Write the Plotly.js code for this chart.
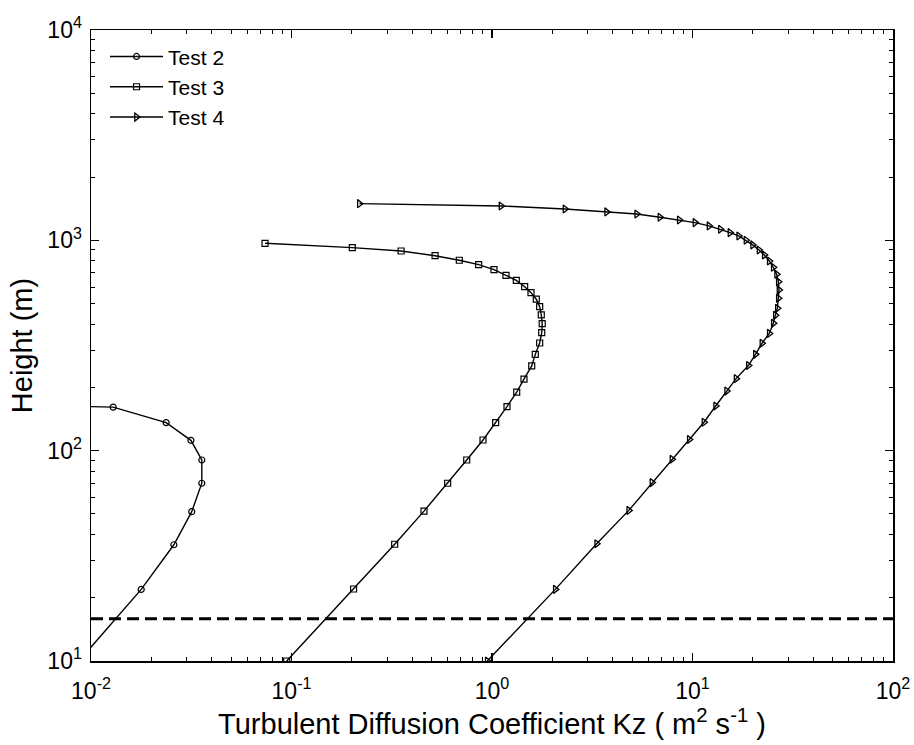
<!DOCTYPE html>
<html>
<head>
<meta charset="utf-8">
<script src="https://cdn.plot.ly/plotly-3.0.1.min.js"></script>
<style>html,body{margin:0;padding:0;background:#fff;}#chart{width:914px;height:745px;}</style>
</head>
<body>
<div id="chart"></div>
<script>
// Test 2 (open circles)
var test2X = [0.006, 0.0129, 0.0237, 0.0315, 0.0357, 0.0357, 0.0318, 0.0259, 0.0178, 0.0087];
var test2Y = [164, 161, 136, 112, 90.3, 70, 51.3, 35.7, 21.9, 10];

// Test 3 (open squares)
var test3X = [0.0738, 0.201, 0.352, 0.520, 0.687, 0.858, 1.023, 1.174, 1.322, 1.455, 1.565, 1.663, 1.729, 1.761, 1.78, 1.77, 1.729, 1.644, 1.578, 1.444, 1.328, 1.188, 1.043, 0.902, 0.748, 0.601, 0.458, 0.327, 0.204, 0.0946];
var test3Y = [968, 923, 890, 845, 804, 766, 726, 682, 645, 602, 564, 525, 484, 442, 402, 364, 325, 287, 253, 219, 190, 162, 136, 112.4, 90.3, 70, 51.6, 35.9, 22, 10];

// Test 4 (right triangles)
var test4X = [0.218, 1.109, 2.312, 3.73, 5.27, 6.88, 8.59, 10.29, 12.09, 13.77, 15.38, 17.0, 18.49, 19.95, 21.47, 22.8, 24.15, 25.28, 26.28, 26.8, 27.0, 26.8, 26.5, 25.9, 25.3, 24.15, 22.2, 20.6, 19.0, 16.5, 14.8, 13.05, 11.41, 9.64, 7.9, 6.28, 4.81, 3.327, 2.069, 0.947];
var test4Y = [1494, 1457, 1409, 1365, 1335, 1288, 1250, 1214, 1171, 1129, 1088, 1049, 1001, 951, 900, 852, 798, 745, 690, 636, 581, 530, 475, 440, 403, 361, 324, 287, 254, 220, 192, 163, 136.5, 113, 91, 70.5, 52, 36.1, 21.9, 10];

// Dashed reference height
var dashX = [0.01, 100];
var dashY = [15.9, 15.9];

// Axis ticks
var xTickVals = [0.01, 0.1, 1, 10, 100];
var xTickText = ['10<sup>-2</sup>', '10<sup>-1</sup>', '10<sup>0</sup>', '10<sup>1</sup>', '10<sup>2</sup>'];
var yTickVals = [10, 100, 1000, 10000];
var yTickText = ['10<sup>1</sup>', '10<sup>2</sup>', '10<sup>3</sup>', '10<sup>4</sup>'];
var minorMult = [2, 3, 4, 5, 6, 7, 8, 9];

function minorVals(decades) {
  var out = [];
  decades.forEach(function (d) { minorMult.forEach(function (m) { out.push(m * d); }); });
  return out;
}
var xMinor = minorVals([0.01, 0.1, 1, 10]);
var yMinor = minorVals([10, 100, 1000]);

var lineStyle = {color: '#000', width: 1.4};
var traces = [
  {x: test2X, y: test2Y, name: 'Test 2', mode: 'lines+markers', line: lineStyle,
   marker: {symbol: 'circle-open', size: 6, color: '#000', line: {width: 1.2}}},
  {x: test3X, y: test3Y, name: 'Test 3', mode: 'lines+markers', line: lineStyle,
   marker: {symbol: 'square-open', size: 6, color: '#000', line: {width: 1.2}}},
  {x: test4X, y: test4Y, name: 'Test 4', mode: 'lines+markers', line: lineStyle,
   marker: {symbol: 'triangle-right-open', size: 7, color: '#000', line: {width: 1.3}}},
  {x: dashX, y: dashY, mode: 'lines', showlegend: false, hoverinfo: 'skip',
   line: {color: '#000', width: 3, dash: '12px,6px'}}
];

var tickFont = {family: 'Liberation Sans, Arial, sans-serif', size: 23, color: '#000'};
var titleFont = {family: 'Liberation Sans, Arial, sans-serif', size: 29, color: '#000'};
var layout = {
  width: 914, height: 745,
  margin: {l: 91, r: 21, t: 30, b: 84},
  paper_bgcolor: '#fff', plot_bgcolor: '#fff',
  font: {family: 'Liberation Sans, Arial, sans-serif', color: '#000'},
  showlegend: true,
  legend: {x: 0.0175, y: 0.99, xanchor: 'left', yanchor: 'top', bgcolor: 'rgba(0,0,0,0)',
           font: {family: 'Liberation Sans, Arial, sans-serif', size: 21, color: '#000'},
           tracegroupgap: 0, itemwidth: 53},
  xaxis: {
    type: 'log', range: [-2, 2], tickmode: 'array', tickvals: xTickVals, ticktext: xTickText,
    ticks: 'inside', ticklen: 8, tickwidth: 1.2, tickcolor: '#000', ticklabelstandoff: 9,
    minor: {tickmode: 'array', tickvals: xMinor, ticks: 'inside', ticklen: 4, tickwidth: 1, tickcolor: '#000', showgrid: false},
    showline: true, linecolor: '#000', linewidth: 1.5, mirror: 'ticks',
    showgrid: false, zeroline: false, tickfont: tickFont,
    title: {text: 'Turbulent Diffusion Coefficient Kz ( m<sup>2</sup> s<sup>-1</sup> )', font: titleFont, standoff: 0}
  },
  yaxis: {
    type: 'log', range: [1, 4], tickmode: 'array', tickvals: yTickVals, ticktext: yTickText,
    ticks: 'inside', ticklen: 8, tickwidth: 1.2, tickcolor: '#000', ticklabelstandoff: 3,
    minor: {tickmode: 'array', tickvals: yMinor, ticks: 'inside', ticklen: 4, tickwidth: 1, tickcolor: '#000', showgrid: false},
    showline: true, linecolor: '#000', linewidth: 1.5, mirror: 'ticks',
    showgrid: false, zeroline: false, tickfont: tickFont,
    title: {text: 'Height (m)', font: titleFont, standoff: 6}
  }
};

Plotly.newPlot('chart', traces, layout, {staticPlot: true, displayModeBar: false});
</script>
</body>
</html>
